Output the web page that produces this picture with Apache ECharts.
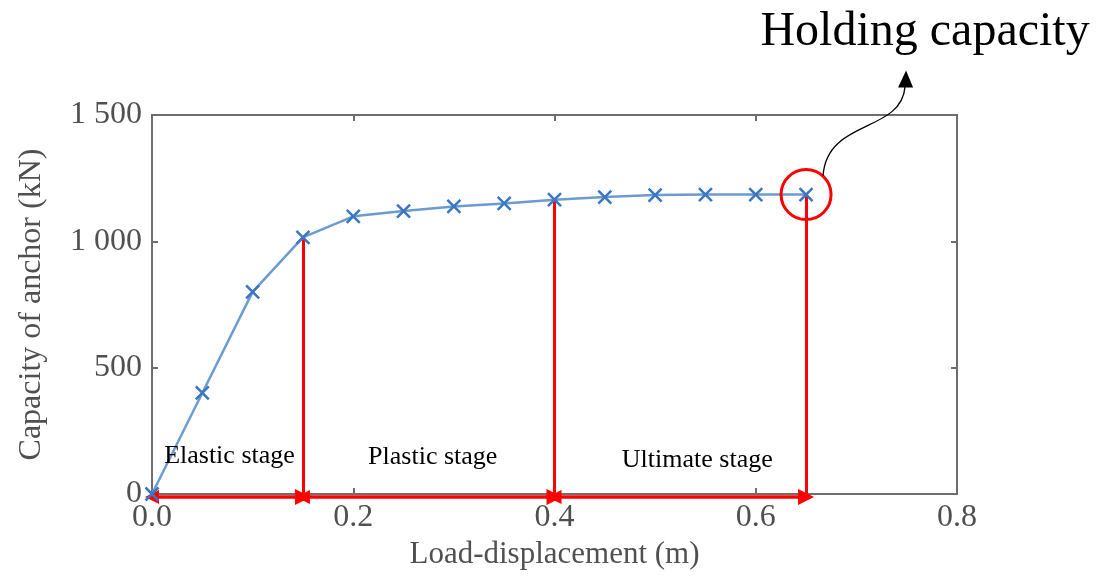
<!DOCTYPE html>
<html><head><meta charset="utf-8">
<script src="https://cdn.jsdelivr.net/npm/echarts@6/dist/echarts.min.js"></script>
<style>html,body{margin:0;padding:0;background:#fff}#c{width:1104px;height:576px}</style>
</head><body><div id="c"></div>
<script>
const displacement = [0, 0.05, 0.1, 0.15, 0.2, 0.25, 0.3, 0.35, 0.4, 0.45, 0.5, 0.55, 0.6, 0.65];
const capacity = [0, 400, 800, 1016, 1099, 1120, 1138, 1150, 1165, 1175, 1183, 1185, 1185, 1185];
const stageBounds = [0, 0.15, 0.4, 0.65];
const stageNames = ['Elastic stage', 'Plastic stage', 'Ultimate stage'];
const xTickLabels = ['0.0', '0.2', '0.4', '0.6', '0.8'];
const yTickLabels = ['0', '500', '1 000', '1 500'];
const xName = 'Load-displacement (m)';
const yName = 'Capacity of anchor (kN)';
const annotationText = 'Holding capacity';

const SERIF = '"Liberation Serif","Times New Roman",serif';
const FRAME = '#6e6e6e';
const TXT = '#505050';
const RED = '#ff0000';

const capAt = x => capacity[displacement.indexOf(x)];
const points = displacement.map((x, i) => [x, capacity[i]]);
const holding = points[points.length - 1];

const verticals = stageBounds.slice(1).map(x => ({coords: [[x, 0], [x, capAt(x)]]}));
const arrows = stageNames.map((n, i) => ({coords: [[stageBounds[i], -12], [stageBounds[i + 1], -12]]}));
const labelOffsets = [[2, 0], [4, 1], [17, 4]];
const stageLabels = stageNames.map((n, i) => ({
  value: [(stageBounds[i] + stageBounds[i + 1]) / 2, 150],
  name: n,
  label: {offset: labelOffsets[i]}
}));

const chart = echarts.init(document.getElementById('c'));
const axisCommon = {
  axisLine: {show: true, onZero: false, lineStyle: {color: FRAME, width: 2}},
  axisTick: {show: true, inside: true, length: 6, lineStyle: {color: FRAME, width: 2}},
  splitLine: {show: false}
};
chart.setOption({
  animation: false,
  grid: {left: 152, right: 147, top: 115, bottom: 82},
  xAxis: [
    Object.assign({
      type: 'value', min: 0, max: 0.8, interval: 0.2, position: 'bottom',
      name: xName, nameLocation: 'middle', nameGap: 43,
      nameTextStyle: {fontFamily: SERIF, fontSize: 31, color: TXT},
      axisLabel: {fontFamily: SERIF, fontSize: 32, color: TXT, margin: 8,
        formatter: v => xTickLabels[Math.round(v / 0.2)]}
    }, axisCommon),
    Object.assign({
      type: 'value', min: 0, max: 0.8, interval: 0.2, position: 'top',
      axisLabel: {show: false}
    }, axisCommon)
  ],
  yAxis: [
    Object.assign({
      type: 'value', min: 0, max: 1500, interval: 500, position: 'left',
      name: yName, nameLocation: 'middle', nameGap: 104, nameRotate: 90,
      nameTextStyle: {fontFamily: SERIF, fontSize: 32, color: TXT},
      axisLabel: {fontFamily: SERIF, fontSize: 32, color: TXT, margin: 10,
        formatter: v => yTickLabels[Math.round(v / 500)]}
    }, axisCommon),
    Object.assign({
      type: 'value', min: 0, max: 1500, interval: 500, position: 'right',
      axisLabel: {show: false}
    }, axisCommon)
  ],
  series: [
    {
      type: 'lines', coordinateSystem: 'cartesian2d', clip: false, z: 3,
      lineStyle: {color: RED, width: 3, opacity: 1}, symbol: ['none', 'none'],
      data: verticals
    },
    {
      type: 'lines', coordinateSystem: 'cartesian2d', clip: false, z: 3,
      lineStyle: {color: RED, width: 3.5, opacity: 1},
      symbol: ['triangle', 'triangle'], symbolSize: [14, 16],
      data: arrows
    },
    {
      type: 'line', data: points, clip: false, z: 4,
      lineStyle: {color: '#6b9bd2', width: 2.5},
      symbol: 'path://M0,0 L10,10 M10,0 L0,10', symbolSize: 13,
      itemStyle: {color: 'transparent', borderColor: '#3a76c2', borderWidth: 2.5}
    },
    {
      type: 'scatter', data: [holding], z: 5, clip: false,
      symbol: 'circle', symbolSize: 50,
      itemStyle: {color: 'transparent', borderColor: RED, borderWidth: 3, opacity: 1}
    },
    {
      type: 'scatter', data: stageLabels, symbolSize: 1, z: 5,
      itemStyle: {color: 'transparent', opacity: 1},
      label: {show: true, position: 'inside', formatter: p => p.name,
        fontFamily: SERIF, fontSize: 26, color: '#000', opacity: 1}
    }
  ]
});

const p = chart.convertToPixel({gridIndex: 0}, holding);
const s = [p[0] + 17, p[1] - 19];
const e = [p[0] + 99, p[1] - 108];
chart.setOption({
  graphic: [
    {
      type: 'bezierCurve', z: 10,
      shape: {x1: s[0], y1: s[1], cpx1: s[0] + 4, cpy1: s[1] - 57, cpx2: e[0] - 4, cpy2: e[1] + 47, x2: e[0], y2: e[1]},
      style: {stroke: '#000', lineWidth: 1.3, fill: null}
    },
    {
      type: 'polygon', z: 10,
      shape: {points: [[e[0] + 1, e[1] - 16], [e[0] - 7, e[1] + 1], [e[0] + 8, e[1] + 1]]},
      style: {fill: '#000'}
    },
    {
      type: 'text', z: 10, x: p[0] + 119, y: 32,
      style: {text: annotationText, fontFamily: SERIF, fontSize: 48, fill: '#000',
        align: 'center', verticalAlign: 'middle'}
    }
  ]
});
</script>
</body></html>
